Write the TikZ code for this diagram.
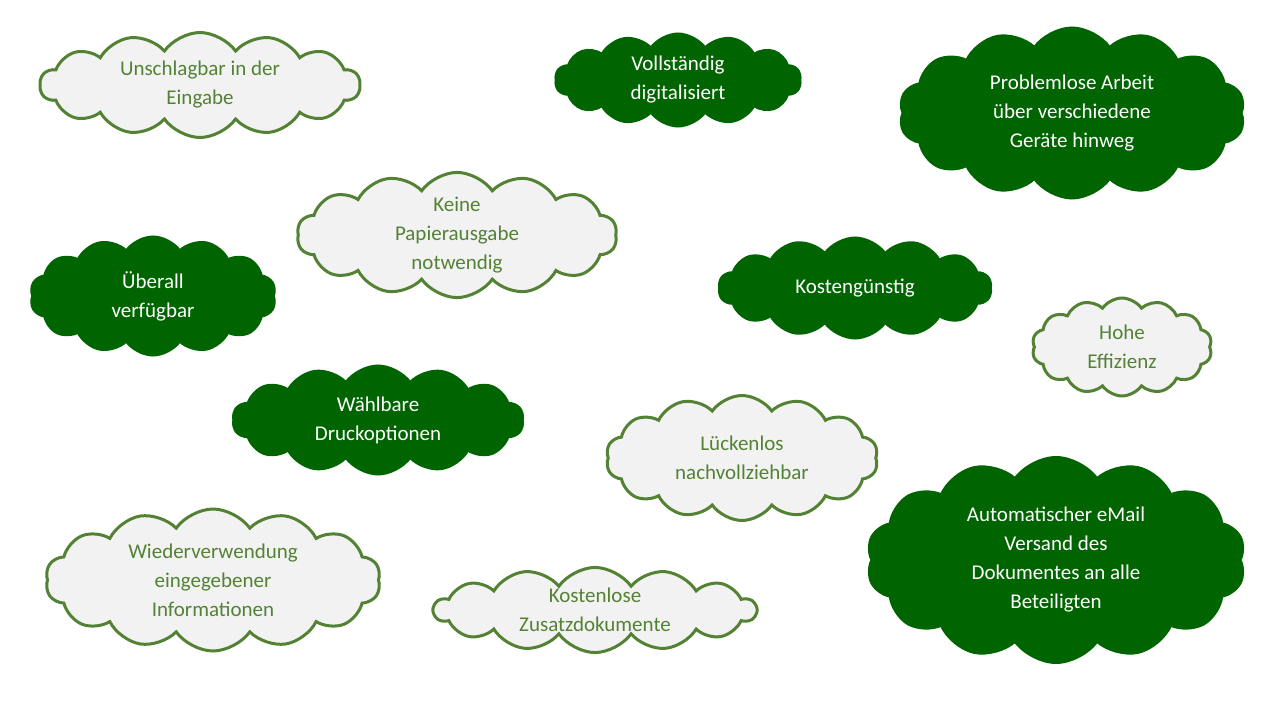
\documentclass[tikz,border=0pt]{standalone}
\usepackage{fontspec}
\setmainfont{Carlito}
\usetikzlibrary{shapes.symbols}
\definecolor{dg}{RGB}{0,100,0}
\definecolor{og}{RGB}{84,130,53}
\definecolor{lg}{RGB}{242,242,242}
\tikzset{
 cl/.style={cloud, cloud puffs=14, cloud puff arc=110, cloud ignores aspect, inner sep=0pt, align=center, font=\fontsize{21}{29}\selectfont},
 light/.style={cl, draw=og, line width=3pt, fill=lg, text=og},
 dark/.style={cl, draw=dg, line width=3pt, fill=dg, text=white},
}
\begin{document}
\begin{tikzpicture}[x=1pt,y=-1pt]
\useasboundingbox (0,0) rectangle (1280,720);
\node[light, minimum width=320pt, minimum height=105pt] (a) at (200,85) {Unschlagbar in der\\Eingabe};
\node[dark, minimum width=245pt, minimum height=92pt] (b) at (678,80) {Vollständig\\digitalisiert};
\node[dark, minimum width=345pt, minimum height=170pt] (c) at (1072,113) {Problemlose Arbeit\\über verschiedene\\Geräte hinweg};
\node[light, minimum width=320pt, minimum height=122pt] (d) at (457,235) {Keine\\Papierausgabe\\notwendig};
\node[dark, minimum width=245pt, minimum height=118pt] (e) at (153,296) {Überall\\verfügbar};
\node[dark, minimum width=272pt, minimum height=100pt] (f) at (855,288) {Kostengünstig};
\node[light, minimum width=180pt, minimum height=98pt] (g) at (1122,347) {Hohe\\Effizienz};
\node[dark, minimum width=290pt, minimum height=108pt] (h) at (378,420) {Wählbare\\Druckoptionen};
\node[light, minimum width=272pt, minimum height=125pt] (i) at (742,458) {Lückenlos\\nachvollziehbar};
\node[light, minimum width=335pt, minimum height=142pt] (j) at (213,580) {Wiederverwendung\\eingegebener\\Informationen};
\node[light, minimum width=322pt, minimum height=80pt] (k) at (595,610) {Kostenlose\\Zusatzdokumente};
\node[dark, minimum width=378pt, minimum height=205pt] (l) at (1056,560) {Automatischer eMail\\Versand des\\Dokumentes an alle\\Beteiligten};
\end{tikzpicture}
\end{document}
